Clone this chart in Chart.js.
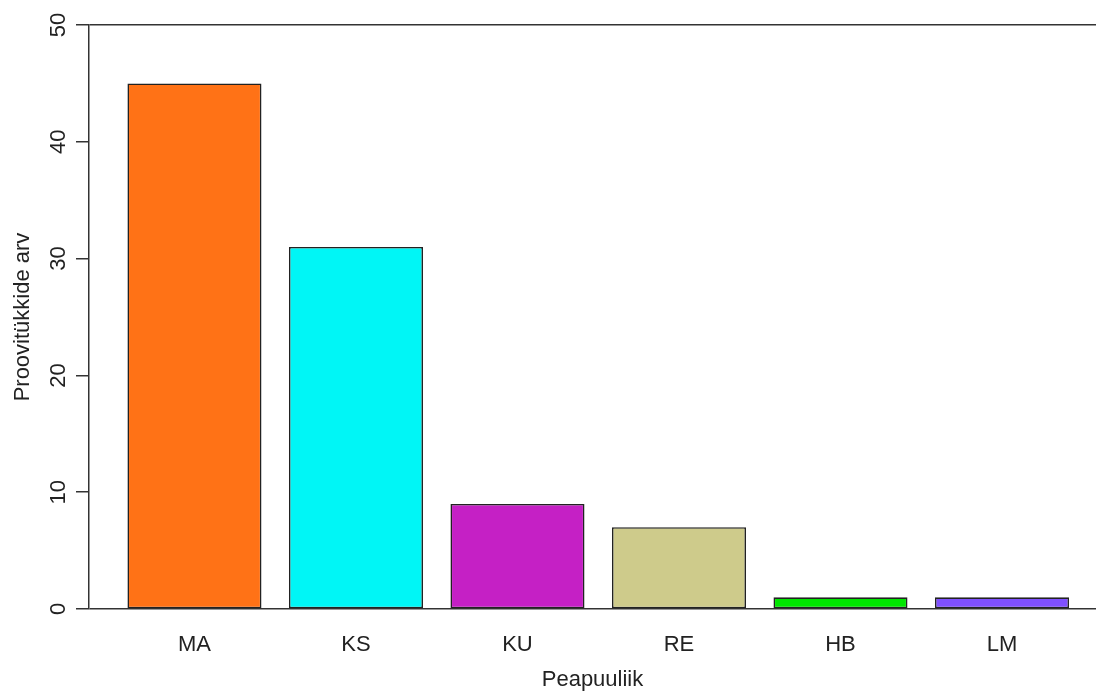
<!DOCTYPE html>
<html>
<head>
<meta charset="utf-8">
<script src="https://cdn.jsdelivr.net/npm/chart.js@4/dist/chart.umd.min.js"></script>
<style>
  html, body { margin: 0; padding: 0; background: #ffffff; overflow: hidden; }
  #wrap { width: 1096px; height: 693px; }
</style>
</head>
<body>
<div id="wrap"><canvas id="treeChart"></canvas></div>
<script>
const categories = ['MA', 'KS', 'KU', 'RE', 'HB', 'LM'];
const plotCounts = [45, 31, 9, 7, 1, 1];
const barColors = ['#FF7216', '#00F6F6', '#C520C5', '#CECB8B', '#00E600', '#7F50FF'];
const yTicks = [0, 10, 20, 30, 40, 50];

const fontFamily = '"Liberation Sans", Arial, sans-serif';
const inkColor = '#222222';
const axisColor = '#333333';

// rotated y tick labels like R's default las=0
const yLabelPlugin = {
    id: 'yLabels',
    afterDraw: function(chart) {
        const scale = chart.scales.y;
        const ctx = chart.ctx;
        ctx.save();
        ctx.font = '22px ' + fontFamily;
        ctx.fillStyle = inkColor;
        ctx.textAlign = 'center';
        ctx.textBaseline = 'alphabetic';
        scale.ticks.forEach(function(t) {
            const py = scale.getPixelForValue(t.value);
            ctx.save();
            ctx.translate(65, py);
            ctx.rotate(-Math.PI / 2);
            ctx.fillText(String(t.value), 0, 0);
            ctx.restore();
        });
        ctx.restore();
    }
};

new Chart(document.getElementById('treeChart').getContext('2d'), {
    type: 'bar',
    data: {
        datasets: [{
            data: plotCounts.map(function(v, i) { return { x: i, y: v }; }),
            backgroundColor: barColors,
            borderColor: inkColor,
            borderWidth: 1.6,
            borderSkipped: false,
            barPercentage: 0.83,
            categoryPercentage: 1
        }]
    },
    options: {
        responsive: true,
        maintainAspectRatio: false,
        animation: false,
        layout: { padding: { top: 25, left: 0, right: 0, bottom: 0 } },
        plugins: {
            legend: { display: false },
            tooltip: { enabled: false }
        },
        scales: {
            x: {
                type: 'linear',
                offset: false,
                min: -0.653,
                max: 5.582,
                afterBuildTicks: function(scale) {
                    scale.ticks = categories.map(function(c, i) { return { value: i }; });
                },
                afterFit: function(scale) { scale.height = 84; },
                grid: { display: false, drawTicks: false },
                border: { display: false },
                ticks: {
                    color: inkColor,
                    font: { family: fontFamily, size: 22 },
                    padding: 23,
                    autoSkip: false,
                    maxRotation: 0,
                    callback: function(value) { return categories[value]; }
                },
                title: {
                    display: true,
                    text: 'Peapuuliik',
                    color: inkColor,
                    font: { family: fontFamily, size: 22 },
                    padding: { top: 0, bottom: 0 }
                }
            },
            y: {
                min: 0,
                max: 50,
                afterBuildTicks: function(scale) {
                    scale.ticks = yTicks.map(function(v) { return { value: v }; });
                },
                afterFit: function(scale) { scale.width = 89; },
                border: { display: true, color: axisColor, width: 1.5 },
                grid: {
                    drawOnChartArea: true,
                    color: function(ctx) {
                        const v = ctx.tick ? ctx.tick.value : null;
                        return (v === 0 || v === 50) ? axisColor : 'rgba(0,0,0,0)';
                    },
                    tickColor: axisColor,
                    tickLength: 13,
                    lineWidth: 1.5
                },
                ticks: { display: false },
                title: {
                    display: true,
                    text: 'Proovitükkide arv',
                    color: inkColor,
                    font: { family: fontFamily, size: 22 },
                    padding: { top: 10, bottom: 0 }
                }
            }
        }
    },
    plugins: [yLabelPlugin]
});
</script>
</body>
</html>
